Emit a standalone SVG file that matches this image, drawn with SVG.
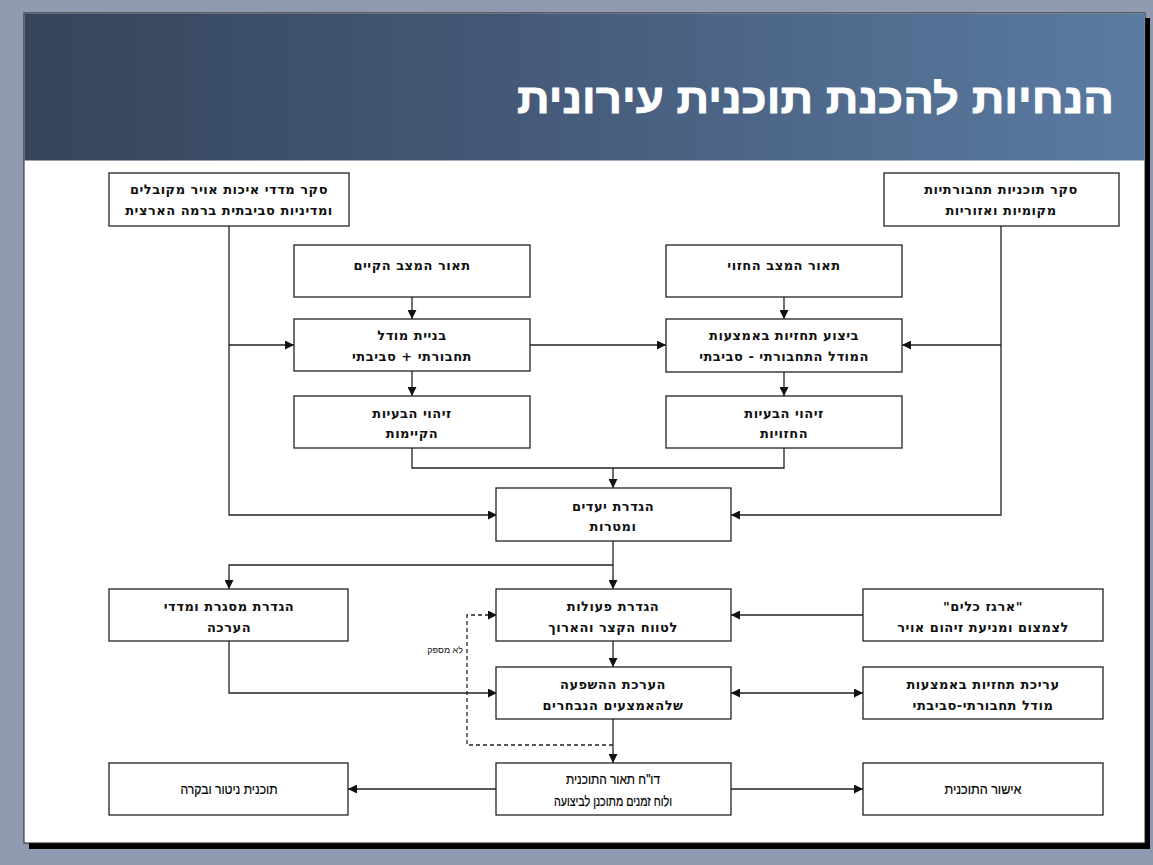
<svg xmlns="http://www.w3.org/2000/svg" width="1153" height="865" viewBox="0 0 1153 865">
<defs>
<linearGradient id="hdr" x1="0" y1="0" x2="1" y2="0">
<stop offset="0" stop-color="#36445b"/>
<stop offset="0.45" stop-color="#455a78"/>
<stop offset="1" stop-color="#5b7ba2"/>
</linearGradient>
<marker id="ah" viewBox="0 0 10 10" refX="10" refY="5" markerWidth="9" markerHeight="9" markerUnits="userSpaceOnUse" orient="auto-start-reverse">
<path d="M0,0 L10,5 L0,10 z" fill="#111"/>
</marker>
<style>
.box{fill:#fff;stroke:#222;stroke-width:1.3}
.t{font-family:"DejaVu Sans","Liberation Sans",sans-serif;font-size:13px;font-weight:bold;letter-spacing:0.5px;fill:#111;text-anchor:middle;direction:rtl}
.tn{font-family:"Liberation Sans","DejaVu Sans",sans-serif;font-size:14px;fill:#000;stroke:#000;stroke-width:0.2;text-anchor:middle;direction:rtl}
.c{fill:none;stroke:#222;stroke-width:1.3}
.d{stroke-dasharray:4,3}
</style>
</defs>
<rect x="0" y="0" width="1153" height="865" fill="#8f99b0"/>
<rect x="29" y="18" width="1121" height="831" fill="#000"/>
<rect x="24" y="13" width="1121" height="830" fill="#fff" stroke="#222" stroke-width="1"/>
<rect x="24.5" y="13.5" width="1120" height="147" fill="url(#hdr)"/>
<text x="1114" y="113" text-anchor="start" font-family="Liberation Sans, DejaVu Sans, sans-serif" font-weight="bold" font-size="42" fill="#fff" stroke="#fff" stroke-width="0.8" direction="rtl" textLength="597" lengthAdjust="spacingAndGlyphs">הנחיות להכנת תוכנית עירונית</text>

<g id="connectors">
<path class="c" d="M229,226 V515 H497" marker-end="url(#ah)"/>
<path class="c" d="M229,345 H294" marker-end="url(#ah)"/>
<path class="c" d="M1001,226 V515 H731" marker-end="url(#ah)"/>
<path class="c" d="M1001,345 H902" marker-end="url(#ah)"/>
<path class="c" d="M412,297 V319" marker-end="url(#ah)"/>
<path class="c" d="M412,371 V396" marker-end="url(#ah)"/>
<path class="c" d="M784,297 V319" marker-end="url(#ah)"/>
<path class="c" d="M784,372 V396" marker-end="url(#ah)"/>
<path class="c" d="M530,345 H666" marker-end="url(#ah)"/>
<path class="c" d="M412,448 V468 H784 V448"/>
<path class="c" d="M613,468 V488" marker-end="url(#ah)"/>
<path class="c" d="M613,541 V589" marker-end="url(#ah)"/>
<path class="c" d="M613,565 H229 V589" marker-end="url(#ah)"/>
<path class="c" d="M863,615 H731" marker-end="url(#ah)"/>
<path class="c" d="M613,641 V667" marker-end="url(#ah)"/>
<path class="c" d="M229,641 V693 H497" marker-end="url(#ah)"/>
<path class="c" d="M731,693 H863" marker-start="url(#ah)" marker-end="url(#ah)"/>
<path class="c" d="M613,719 V763" marker-end="url(#ah)"/>
<path class="c d" d="M613,745 H467 V615 H497" marker-end="url(#ah)"/>
<path class="c" d="M497,789 H348" marker-end="url(#ah)"/>
<path class="c" d="M731,789 H863" marker-end="url(#ah)"/>
<text x="463" y="653" font-family="Liberation Sans, DejaVu Sans, sans-serif" font-size="9" fill="#111" text-anchor="start" direction="rtl">לא מספק</text>
</g>

<g id="n1"><rect class="box" x="109" y="173" width="240" height="53"/>
<text class="t" x="229" y="194">סקר מדדי איכות אויר מקובלים</text>
<text class="t" x="229" y="215">ומדיניות סביבתית ברמה הארצית</text></g>
<g id="n2"><rect class="box" x="884" y="173" width="235" height="53"/>
<text class="t" x="1001" y="194">סקר תוכניות תחבורתיות</text>
<text class="t" x="1001" y="215">מקומיות ואזוריות</text></g>
<g id="n3"><rect class="box" x="294" y="245" width="236" height="52"/>
<text class="t" x="412" y="270">תאור המצב הקיים</text></g>
<g id="n4"><rect class="box" x="666" y="245" width="236" height="52"/>
<text class="t" x="784" y="270">תאור המצב החזוי</text></g>
<g id="n5"><rect class="box" x="294" y="319" width="236" height="52"/>
<text class="t" x="412" y="340">בניית מודל</text>
<text class="t" x="412" y="361">תחבורתי + סביבתי</text></g>
<g id="n6"><rect class="box" x="666" y="319" width="236" height="53"/>
<text class="t" x="784" y="340">ביצוע תחזיות באמצעות</text>
<text class="t" x="784" y="361">המודל התחבורתי - סביבתי</text></g>
<g id="n7"><rect class="box" x="294" y="396" width="236" height="52"/>
<text class="t" x="412" y="418">זיהוי הבעיות</text>
<text class="t" x="412" y="438">הקיימות</text></g>
<g id="n8"><rect class="box" x="666" y="396" width="236" height="52"/>
<text class="t" x="784" y="418">זיהוי הבעיות</text>
<text class="t" x="784" y="438">החזויות</text></g>
<g id="n9"><rect class="box" x="496" y="488" width="235" height="53"/>
<text class="t" x="613" y="511">הגדרת יעדים</text>
<text class="t" x="613" y="531">ומטרות</text></g>
<g id="n10"><rect class="box" x="109" y="589" width="239" height="52"/>
<text class="t" x="229" y="611">הגדרת מסגרת ומדדי</text>
<text class="t" x="229" y="632">הערכה</text></g>
<g id="n11"><rect class="box" x="496" y="589" width="235" height="52"/>
<text class="t" x="613" y="611">הגדרת פעולות</text>
<text class="t" x="613" y="632">לטווח הקצר והארוך</text></g>
<g id="n12"><rect class="box" x="863" y="589" width="240" height="52"/>
<text class="t" x="983" y="611">"ארגז כלים"</text>
<text class="t" x="983" y="632">לצמצום ומניעת זיהום אויר</text></g>
<g id="n13"><rect class="box" x="496" y="667" width="235" height="52"/>
<text class="t" x="613" y="689">הערכת ההשפעה</text>
<text class="t" x="613" y="710">שלהאמצעים הנבחרים</text></g>
<g id="n14"><rect class="box" x="863" y="667" width="240" height="52"/>
<text class="t" x="983" y="689">עריכת תחזיות באמצעות</text>
<text class="t" x="983" y="710">מודל תחבורתי-סביבתי</text></g>
<g id="n15"><rect class="box" x="109" y="763" width="239" height="52"/>
<text class="tn" x="229" y="794" textLength="97" lengthAdjust="spacingAndGlyphs">תוכנית ניטור ובקרה</text></g>
<g id="n16"><rect class="box" x="496" y="763" width="235" height="52"/>
<text class="tn" x="613" y="784" textLength="94" lengthAdjust="spacingAndGlyphs">דו&quot;ח תאור התוכנית</text>
<text class="tn" x="613" y="806" textLength="118" lengthAdjust="spacingAndGlyphs">ולוח זמנים מתוכנן לביצועה</text></g>
<g id="n17"><rect class="box" x="863" y="763" width="240" height="52"/>
<text class="tn" x="983" y="794" textLength="77" lengthAdjust="spacingAndGlyphs">אישור התוכנית</text></g>
</svg>
